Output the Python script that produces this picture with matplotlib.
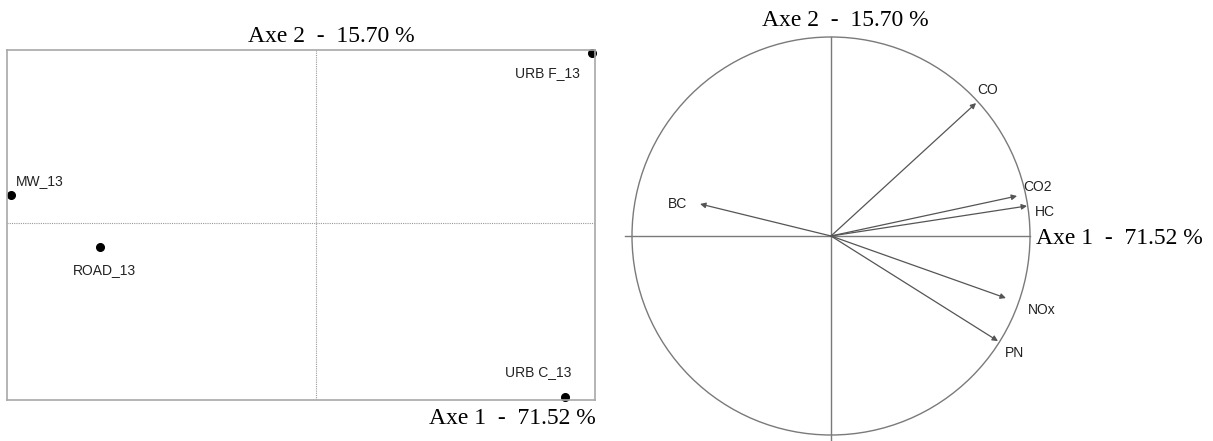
import matplotlib.pyplot as plt
from matplotlib.patches import Circle

# individuals (factor map)
ind_names = ["URB F_13", "MW_13", "ROAD_13", "URB C_13"]
ind_x = [2.76, -3.05, -2.16, 2.49]
ind_y = [1.70, 0.28, -0.24, -1.74]

# variables (correlation circle)
var_names = ["CO", "CO2", "HC", "NOx", "PN", "BC"]
var_x = [0.729, 0.935, 0.985, 0.879, 0.839, -0.658]
var_y = [0.668, 0.201, 0.151, -0.312, -0.528, 0.161]

axe1 = "Axe 1  -  71.52 %"
axe2 = "Axe 2  -  15.70 %"

serif = ["Liberation Serif", "DejaVu Serif"]
narrow = ["Liberation Sans Narrow", "Liberation Sans", "DejaVu Sans"]

PX = 0.72  # pixel -> points at dpi 100

fig = plt.figure(figsize=(12.13, 4.41), dpi=100)

#########################################################
# LEFT : individuals
#########################################################

ax1 = fig.add_axes([7 / 1213, 41 / 441, 588 / 1213, 350 / 441])
ax1.set_xlim(-3.09, 2.79)
ax1.set_ylim(-1.77, 1.73)
ax1.set_xticks([])
ax1.set_yticks([])
for s in ax1.spines.values():
    s.set_color("#a8a8a8")
    s.set_linewidth(1.2)

ax1.axhline(0, color="#9a9a9a", lw=0.8, ls=(0, (1, 1)))
ax1.axvline(0, color="#9a9a9a", lw=0.8, ls=(0, (1, 1)))

ax1.plot(ind_x, ind_y, "o", color="black", markersize=5.5, clip_on=False)

offsets = [(-45, -20), (5, 14), (4, -23), (-27, 25)]
aligns = ["center", "left", "center", "center"]
for name, x, y, off, ha in zip(ind_names, ind_x, ind_y, offsets, aligns):
    ax1.annotate(name, (x, y), xytext=(off[0] * PX, off[1] * PX),
                 textcoords="offset points", ha=ha, va="center",
                 fontsize=10, family=narrow, color="#222222")

fig.text(331 / 1213, 1 - 37 / 441, axe2, family=serif, fontsize=17,
         ha="center", va="center")
fig.text(512 / 1213, 1 - 419 / 441, axe1, family=serif, fontsize=17,
         ha="center", va="center")

#########################################################
# RIGHT : correlation circle
#########################################################

r = 199
ax2 = fig.add_axes([(831 - 1.1 * r) / 1213, 0, 2.2 * r / 1213, 1])
ax2.set_xlim(-1.1, 1.1)
ax2.set_ylim(-205 / r, 236 / r)
ax2.axis("off")

ax2.add_patch(Circle((0, 0), 1, fill=False, ec="#7a7a7a", lw=1.0))
ax2.plot([-1.035, 1.0], [0, 0], color="#7a7a7a", lw=1.0)
ax2.plot([0, 0], [1.0, -1.04], color="#7a7a7a", lw=1.0)

lab_off = [(12, -13), (20, -9), (18, 6), (36, 12), (17, 12), (-13, 0)]
for name, x, y, off in zip(var_names, var_x, var_y, lab_off):
    ax2.annotate("", xy=(x, y), xytext=(0, 0),
                 arrowprops=dict(arrowstyle="-|>", color="#555555", lw=0.9,
                                 mutation_scale=8, shrinkA=0, shrinkB=0))
    ax2.annotate(name, (x, y), xytext=(off[0] * PX, -off[1] * PX),
                 textcoords="offset points",
                 ha="right" if off[0] < 0 else "center", va="center",
                 fontsize=10, family=narrow, color="#222222")

ax2.text(-0.347, (236 - 20) / r, axe2, family=serif, fontsize=17,
         ha="left", va="center")
ax2.text(1.03, -0.015, axe1, family=serif, fontsize=17,
         ha="left", va="center", clip_on=False)

plt.savefig("out.png", dpi=100)
